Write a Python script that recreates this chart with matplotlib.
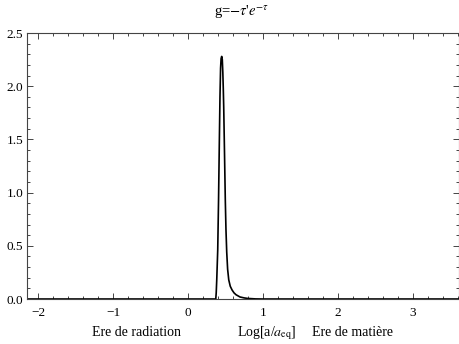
import matplotlib
matplotlib.use("Agg")
import matplotlib.pyplot as plt
from matplotlib.ticker import MultipleLocator, FormatStrFormatter

plt.rcParams['font.family'] = ['Liberation Serif', 'DejaVu Serif']
plt.rcParams['mathtext.fontset'] = 'stix'

# Visibility function g(x), x = Log[a/a_eq]
log_a = [-2.3, 0.370, 0.376, 0.383, 0.396, 0.407, 0.417, 0.426, 0.434, 0.441,
         0.449, 0.457, 0.464, 0.470, 0.476, 0.487, 0.497, 0.506, 0.516, 0.528,
         0.543, 0.563, 0.587, 0.613, 0.64, 0.693, 0.75, 0.8, 0.9, 0.99, 3.8]
g_vals = [0.0, 0.0, 0.06, 0.18, 0.46, 0.93, 1.45, 1.9, 2.17, 2.26,
          2.28, 2.25, 2.13, 1.98, 1.80, 1.35, 0.93, 0.65, 0.44, 0.28,
          0.18, 0.12, 0.085, 0.058, 0.04, 0.019, 0.01, 0.005, 0.001, 0.0, 0.0]

x_ticks = [-2, -1, 0, 1, 2, 3]
y_ticks = [0.0, 0.5, 1.0, 1.5, 2.0, 2.5]

W, H = 459, 344
fig = plt.figure(figsize=(W / 100, H / 100), dpi=100)
ax = fig.add_axes([27.3 / W, (H - 299) / H, (459 - 27.3) / W, (299 - 33) / H])

ax.plot(log_a, g_vals, color='black', lw=1.2, solid_joinstyle='round')

ax.set_xlim(-2.143, 3.613)
ax.set_ylim(0, 2.5)
ax.set_xticks(x_ticks)
ax.set_yticks(y_ticks)
ax.xaxis.set_minor_locator(MultipleLocator(0.2))
ax.yaxis.set_minor_locator(MultipleLocator(0.1))
ax.yaxis.set_major_formatter(FormatStrFormatter('%.1f'))

for s in ax.spines.values():
    s.set_color('#444444')
    s.set_linewidth(0.8)

ax.tick_params(which='both', direction='in', top=True, right=True,
               color='#444444', width=0.7, labelsize=9.5)
ax.tick_params(which='major', length=4.5)
ax.tick_params(which='minor', length=2.3)
ax.tick_params(axis='x', pad=6)
ax.tick_params(axis='y', pad=3)
ax.tick_params(labelright=False, labeltop=False)

fig.text(241.5 / W, 1 - 12.5 / H, r"g=$-\tau$'$e^{-\tau}$", ha='center', va='center', fontsize=10.5)

fig.text(137 / W, 1 - 333 / H, "Ere de radiation", ha='center', va='center', fontsize=10)
fig.text(267 / W, 1 - 333 / H, r"Log[a/$a_{\rm eq}$]", ha='center', va='center', fontsize=10)
fig.text(352.5 / W, 1 - 333 / H, "Ere de matière", ha='center', va='center', fontsize=10)

fig.savefig("out.png", dpi=100)
